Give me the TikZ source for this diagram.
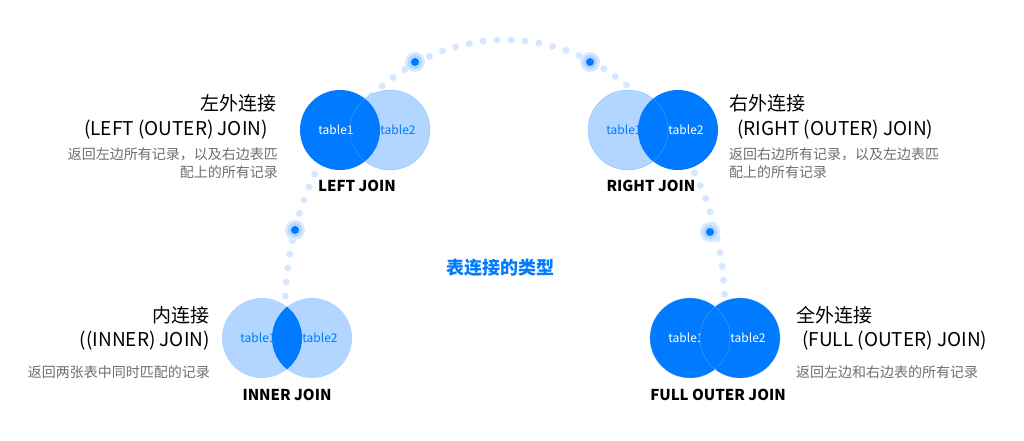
\documentclass[tikz,border=0pt]{standalone}
\usepackage{fontspec}
\setmainfont{Noto Sans CJK SC}
\definecolor{joinblue}{RGB}{0,122,255}
\definecolor{joinlight}{RGB}{178,214,255}
\definecolor{dotblue}{RGB}{214,232,255}
\definecolor{desc}{RGB}{110,110,110}
\tikzset{
    set/.style={circle, minimum size=80pt, inner sep=0pt, font=\fontsize{12}{12}\selectfont},
    dark/.style={set, fill=joinblue, text=white},
    light/.style={set, fill=joinlight, text=joinblue},
    cname/.style={font=\fontsize{19}{22}\selectfont, align=right, inner sep=0pt},
    dtext/.style={font=\fontsize{14}{18}\selectfont, text=desc, inner sep=0pt},
    jname/.style={font=\bfseries\fontsize{15}{15}\selectfont, inner sep=0pt},
}
\begin{document}
\begin{tikzpicture}[x=1pt,y=1pt]
    \useasboundingbox (0,0) rectangle (1024,440);
    % dotted arc
    \draw[dotblue, line width=7pt, line cap=round, dash pattern=on 0pt off 14pt]
        (285,130) arc[start angle=180, end angle=0, x radius=220, y radius=270];
    \foreach \p in {(415,378),(590,378),(295,210),(710,208)} {
        \fill[dotblue] \p circle (10pt);
        \fill[joinlight] \p circle (7pt);
        \fill[joinblue] \p circle (4pt);
    }

    % LEFT JOIN
    \node[light] (l2) at (390,310) {\hspace*{16pt}table2};
    \node[dark] (l1) at (340,310) {\hspace*{-8pt}table1};
    \draw[joinlight!60!joinblue, very thin] (390,310) circle (40pt);
    \node[jname] (lj) at (357,254) {LEFT JOIN};
    \node[cname, anchor=east] (lc) at (277,337) {左外连接};
    \node[cname, anchor=east] (le) at (268,310) {(LEFT (OUTER) JOIN)};
    \node[dtext, anchor=north east, align=right] (ld) at (278,292) {返回左边所有记录，以及右边表匹\\配上的所有记录};

    % RIGHT JOIN
    \node[light] (r1) at (628,310) {\hspace*{-8pt}table1};
    \node[dark] (r2) at (678,310) {\hspace*{16pt}table2};
    \draw[joinlight!60!joinblue, very thin] (628,310) circle (40pt);
    \node[jname] (rj) at (651,254) {RIGHT JOIN};
    \node[cname, anchor=west] (rc) at (729,337) {右外连接};
    \node[cname, anchor=west] (re) at (737,310) {(RIGHT (OUTER) JOIN)};
    \node[dtext, anchor=north west, align=left] (rd) at (729,292) {返回右边所有记录，以及左边表匹\\配上的所有记录};

    % INNER JOIN
    \node[light] (i1) at (262,102) {\hspace*{-8pt}table1};
    \node[light] (i2) at (312,102) {\hspace*{16pt}table2};
    \begin{scope}
        \clip (262,102) circle (40pt);
        \fill[joinblue] (312,102) circle (40pt);
    \end{scope}
    \node[jname] (ij) at (287,45) {INNER JOIN};
    \node[cname, anchor=east] (ic) at (210,125) {内连接};
    \node[cname, anchor=east] (ie) at (210,99) {((INNER) JOIN)};
    \node[dtext, anchor=east] (id) at (210,68) {返回两张表中同时匹配的记录};

    % FULL OUTER JOIN
    \node[dark] (f1) at (690,102) {\hspace*{-8pt}table1};
    \node[dark] (f2) at (740,102) {\hspace*{16pt}table2};
    \draw[joinlight!60!joinblue, very thin] (690,102) circle (40pt) (740,102) circle (40pt);
    \node[jname] (fj) at (718,45) {FULL OUTER JOIN};
    \node[cname, anchor=west] (fc) at (796,125) {全外连接};
    \node[cname, anchor=west] (fe) at (802,99) {(FULL (OUTER) JOIN)};
    \node[dtext, anchor=west] (fd) at (796,68) {返回左边和右边表的所有记录};

    % title
    \node[font=\bfseries\fontsize{18}{18}\selectfont, text=joinblue] (title) at (500,172) {表连接的类型};
\end{tikzpicture}
\end{document}
